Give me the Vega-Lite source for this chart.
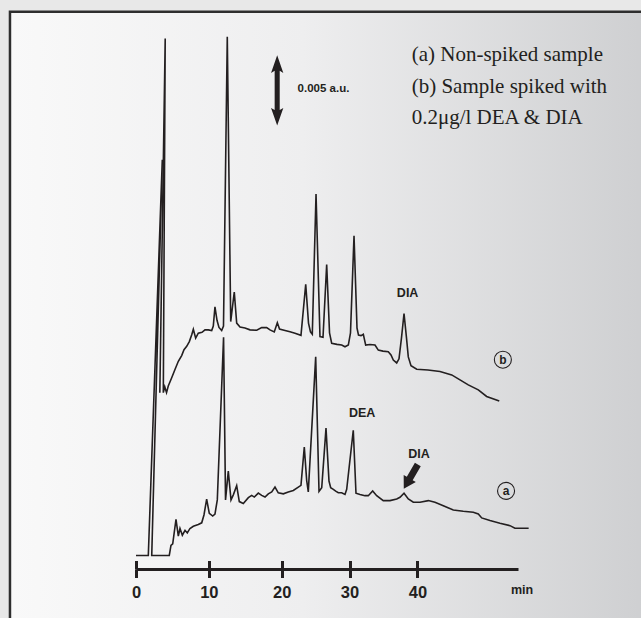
{
  "$schema": "https://vega.github.io/schema/vega-lite/v6.json",
  "width": 382,
  "height": 563,
  "autosize": {"type": "none"},
  "padding": {"left": 136, "top": 6, "right": 123, "bottom": 49},
  "background": "#e8e8e8",
  "config": {"view": {"stroke": null, "fill": null}, "font": "Liberation Sans"},
  "resolve": {"axis": {"x": "independent"}},
  "datasets": {
    "a": [
      {"i":1,"t":0,"v":0.96},{"i":2,"t":1.69,"v":0.96},{"i":3,"t":3.61,"v":29.07},{"i":4,"t":2.16,"v":0.96},{"i":5,"t":4.57,"v":0.96},
      {"i":6,"t":4.80,"v":1.68},{"i":7,"t":5.04,"v":1.79},{"i":8,"t":5.49,"v":3.52},{"i":9,"t":5.81,"v":2.33},{"i":10,"t":6.04,"v":2.88},
      {"i":11,"t":6.36,"v":2.40},{"i":12,"t":6.73,"v":2.75},{"i":13,"t":7.04,"v":2.56},{"i":14,"t":7.41,"v":2.88},{"i":15,"t":7.87,"v":3.04},
      {"i":16,"t":8.55,"v":3.16},{"i":17,"t":9.02,"v":3.28},{"i":18,"t":9.33,"v":3.84},{"i":19,"t":9.70,"v":4.96},{"i":20,"t":10.06,"v":3.95},
      {"i":21,"t":10.53,"v":3.76},{"i":22,"t":10.84,"v":3.90},{"i":23,"t":11.16,"v":4.91},{"i":24,"t":12.02,"v":16.47},{"i":25,"t":12.29,"v":4.91},
      {"i":26,"t":12.67,"v":6.95},{"i":27,"t":13.04,"v":4.91},{"i":28,"t":13.36,"v":5.27},{"i":29,"t":13.82,"v":5.92},{"i":30,"t":14.18,"v":4.79},
      {"i":31,"t":14.73,"v":4.66},{"i":32,"t":15.42,"v":5.07},{"i":33,"t":15.88,"v":5.23},{"i":34,"t":16.24,"v":5.11},{"i":35,"t":16.79,"v":5.39},
      {"i":36,"t":17.25,"v":5.23},{"i":37,"t":17.71,"v":5.11},{"i":38,"t":18.16,"v":5.34},{"i":39,"t":18.63,"v":5.47},{"i":40,"t":19.08,"v":5.82},
      {"i":41,"t":19.53,"v":5.41},{"i":42,"t":20.24,"v":5.34},{"i":43,"t":20.97,"v":5.47},{"i":44,"t":21.71,"v":5.58},{"i":45,"t":22.45,"v":5.82},
      {"i":46,"t":22.84,"v":5.94},{"i":47,"t":23.33,"v":8.66},{"i":48,"t":23.68,"v":6.30},{"i":49,"t":23.92,"v":5.48},{"i":50,"t":25.01,"v":15.07},
      {"i":51,"t":25.50,"v":5.51},{"i":52,"t":25.90,"v":5.77},{"i":53,"t":26.53,"v":10.01},{"i":54,"t":26.97,"v":6.25},{"i":55,"t":27.22,"v":5.77},
      {"i":56,"t":27.61,"v":5.66},{"i":57,"t":27.96,"v":5.53},{"i":58,"t":28.34,"v":5.42},{"i":59,"t":28.84,"v":5.42},{"i":60,"t":29.33,"v":5.30},
      {"i":61,"t":29.58,"v":5.66},{"i":62,"t":30.55,"v":9.86},{"i":63,"t":30.95,"v":5.38},{"i":64,"t":31.54,"v":5.29},{"i":65,"t":32.28,"v":5.21},
      {"i":66,"t":32.76,"v":5.21},{"i":67,"t":33.41,"v":5.55},{"i":68,"t":34.00,"v":5.21},{"i":69,"t":34.97,"v":4.86},{"i":70,"t":35.96,"v":4.86},
      {"i":71,"t":36.95,"v":4.98},{"i":72,"t":37.44,"v":5.10},{"i":73,"t":38.03,"v":5.38},{"i":74,"t":38.66,"v":4.98},{"i":75,"t":39.40,"v":4.74},
      {"i":76,"t":40.38,"v":4.74},{"i":77,"t":41.61,"v":4.86},{"i":78,"t":42.59,"v":4.74},{"i":79,"t":43.82,"v":4.50},{"i":80,"t":45.29,"v":4.19},
      {"i":81,"t":46.76,"v":4.10},{"i":82,"t":48.24,"v":4.03},{"i":83,"t":48.98,"v":3.91},{"i":84,"t":49.48,"v":3.63},{"i":85,"t":50.70,"v":3.44},
      {"i":86,"t":52.17,"v":3.25},{"i":87,"t":53.65,"v":3.08},{"i":88,"t":54.38,"v":2.89},{"i":89,"t":56.40,"v":2.89}
    ],
    "b": [
      {"i":1,"t":3.27,"v":12.53},{"i":2,"t":4.01,"v":37.69},{"i":3,"t":3.75,"v":12.53},{"i":4,"t":3.95,"v":12.95},{"i":5,"t":4.19,"v":12.53},
      {"i":6,"t":4.43,"v":13.00},{"i":7,"t":4.90,"v":13.59},{"i":8,"t":5.35,"v":14.17},{"i":9,"t":5.81,"v":14.76},{"i":10,"t":6.27,"v":15.16},
      {"i":11,"t":6.59,"v":15.58},{"i":12,"t":6.96,"v":15.82},{"i":13,"t":7.32,"v":16.16},{"i":14,"t":7.65,"v":16.64},{"i":15,"t":7.87,"v":17.03},
      {"i":16,"t":8.19,"v":16.40},{"i":17,"t":8.55,"v":16.75},{"i":18,"t":9.06,"v":16.82},{"i":19,"t":9.47,"v":16.99},{"i":20,"t":9.92,"v":16.99},
      {"i":21,"t":10.39,"v":16.94},{"i":22,"t":10.61,"v":17.26},{"i":23,"t":10.84,"v":18.63},{"i":24,"t":11.12,"v":17.67},{"i":25,"t":11.39,"v":17.16},
      {"i":26,"t":11.76,"v":16.94},{"i":27,"t":12.01,"v":17.26},{"i":28,"t":12.53,"v":37.81},{"i":29,"t":13.00,"v":17.58},{"i":30,"t":13.49,"v":19.68},
      {"i":31,"t":13.82,"v":17.47},{"i":32,"t":14.28,"v":17.19},{"i":33,"t":14.96,"v":17.12},{"i":34,"t":15.65,"v":16.99},{"i":35,"t":16.57,"v":16.96},
      {"i":36,"t":17.25,"v":17.15},{"i":37,"t":17.94,"v":17.15},{"i":38,"t":18.39,"v":16.99},{"i":39,"t":18.98,"v":16.84},{"i":40,"t":19.40,"v":17.49},
      {"i":41,"t":19.70,"v":17.05},{"i":42,"t":20.49,"v":16.95},{"i":43,"t":21.22,"v":16.85},{"i":44,"t":21.96,"v":16.75},{"i":45,"t":22.84,"v":16.60},
      {"i":46,"t":23.54,"v":20.23},{"i":47,"t":23.95,"v":17.47},{"i":48,"t":24.24,"v":16.85},{"i":49,"t":24.51,"v":16.68},{"i":50,"t":25.06,"v":26.64},
      {"i":51,"t":25.64,"v":16.51},{"i":52,"t":26.09,"v":16.47},{"i":53,"t":26.63,"v":21.63},{"i":54,"t":27.05,"v":16.78},{"i":55,"t":27.37,"v":16.03},
      {"i":56,"t":28.15,"v":15.96},{"i":57,"t":28.84,"v":15.91},{"i":58,"t":29.33,"v":15.79},{"i":59,"t":29.82,"v":15.91},{"i":60,"t":30.14,"v":16.78},
      {"i":61,"t":30.66,"v":23.68},{"i":62,"t":31.10,"v":17.12},{"i":63,"t":31.32,"v":16.62},{"i":64,"t":31.69,"v":16.58},{"i":65,"t":32.03,"v":16.68},
      {"i":66,"t":32.38,"v":15.91},{"i":67,"t":33.01,"v":15.95},{"i":68,"t":33.75,"v":15.91},{"i":69,"t":34.24,"v":15.55},{"i":70,"t":34.93,"v":15.48},
      {"i":71,"t":35.71,"v":15.44},{"i":72,"t":36.11,"v":15.21},{"i":73,"t":36.45,"v":14.85},{"i":74,"t":36.95,"v":14.64},{"i":75,"t":37.29,"v":14.93},
      {"i":76,"t":37.66,"v":16.44},{"i":77,"t":38.03,"v":18.15},{"i":78,"t":38.39,"v":16.44},{"i":79,"t":38.66,"v":15.07},{"i":80,"t":39.06,"v":14.45},
      {"i":81,"t":39.90,"v":14.19},{"i":82,"t":41.56,"v":14.14},{"i":83,"t":43.33,"v":14.03},{"i":84,"t":45.06,"v":13.79},{"i":85,"t":46.28,"v":13.44},
      {"i":86,"t":47.50,"v":13.08},{"i":87,"t":48.98,"v":12.73},{"i":88,"t":50.21,"v":12.26},{"i":89,"t":52.07,"v":11.93}
    ],
    "legend": [
      {"x":39.16,"y":36.49,"text":"(a) Non-spiked sample"},
      {"x":39.16,"y":34.25,"text":"(b) Sample spiked with"},
      {"x":39.16,"y":32.01,"text":"0.2μg/l DEA & DIA"}
    ],
    "peaks": [
      {"x":38.56,"y":19.60,"text":"DIA"},
      {"x":31.86,"y":11.10,"text":"DEA"},
      {"x":40.25,"y":8.15,"text":"DIA"}
    ],
    "traces": [
      {"x":52.60,"y":14.87,"text":"b"},
      {"x":53.07,"y":5.55,"text":"a"}
    ],
    "scalebar": [{"x":19.38,"y":34.0}],
    "scalelabel": [{"x":22.34,"y":34.08,"text":"0.005 a.u."}],
    "marker": [{"x":39.03,"y":6.56}]
  },
  "layer": [
    {
      "data": {"values": [{}]},
      "mark": {
        "type": "rect",
        "fill": {"gradient": "linear", "x1": 0, "x2": 1, "y1": 0, "y2": 0,
          "stops": [{"offset": 0, "color": "#f9f9f9"}, {"offset": 0.45, "color": "#eeeeef"}, {"offset": 1, "color": "#cdced0"}]},
        "stroke": "#2e2e2e", "strokeWidth": 2.5
      },
      "encoding": {
        "x": {"datum": -17.3, "type": "quantitative", "scale": {"domain": [0, 20, 54.83], "range": [0, 145.7, 382], "nice": false, "zero": false}, "axis": null},
        "x2": {"datum": 75.8},
        "y": {"datum": 39.59, "type": "quantitative", "scale": {"domain": [0, 40], "nice": false, "zero": false}, "axis": null},
        "y2": {"datum": -5}
      }
    },
    {
      "data": {"name": "a"},
      "mark": {"type": "line", "stroke": "#231f20", "strokeWidth": 1.6},
      "encoding": {
        "x": {"field": "t", "type": "quantitative", "scale": {"domain": [0, 20, 54.83], "range": [0, 145.7, 382], "nice": false, "zero": false},
          "axis": {"orient": "bottom", "zindex": 1, "values": [0, 10, 20, 30, 40], "grid": false,
            "domain": true, "domainColor": "#231f20", "domainWidth": 3,
            "ticks": true, "tickColor": "#231f20", "tickWidth": 3, "tickSize": 8.5,
            "labelFont": "Liberation Sans", "labelFontWeight": "bold", "labelFontSize": 16.5, "labelColor": "#231f20",
            "labelPadding": 7, "labelDx": 4, "labelFlush": false, "labelOverlap": false,
            "title": "min", "titleFont": "Liberation Sans", "titleFontWeight": "bold", "titleFontSize": 12.5, "titleColor": "#231f20",
            "titleX": 385.5, "titleY": 24.3, "titleAlign": "center", "titleBaseline": "alphabetic", "titleAngle": 0}},
        "y": {"field": "v", "type": "quantitative", "scale": {"domain": [0, 40], "nice": false, "zero": false}, "axis": null},
        "order": {"field": "i"}
      }
    },
    {
      "data": {"name": "b"},
      "mark": {"type": "line", "stroke": "#231f20", "strokeWidth": 1.6},
      "encoding": {
        "x": {"field": "t", "type": "quantitative", "scale": {"domain": [0, 20, 54.83], "range": [0, 145.7, 382], "nice": false, "zero": false},
          "axis": {"orient": "bottom", "zindex": 1, "offset": -8.5, "values": [0, 10, 20, 30, 40], "grid": false,
            "domain": false, "labels": false, "title": null,
            "ticks": true, "tickColor": "#231f20", "tickWidth": 3, "tickSize": 8.5}},
        "y": {"field": "v", "type": "quantitative", "scale": {"domain": [0, 40], "nice": false, "zero": false}, "axis": null},
        "order": {"field": "i"}
      }
    },
    {
      "data": {"name": "legend"},
      "mark": {"type": "text", "font": "Liberation Serif", "fontSize": 21, "color": "#231f20", "align": "left", "baseline": "middle"},
      "encoding": {
        "x": {"field": "x", "type": "quantitative", "axis": null},
        "y": {"field": "y", "type": "quantitative", "axis": null},
        "text": {"field": "text"}
      }
    },
    {
      "data": {"name": "peaks"},
      "mark": {"type": "text", "font": "Liberation Sans", "fontWeight": "bold", "fontSize": 12.5, "color": "#231f20", "align": "center", "baseline": "middle"},
      "encoding": {
        "x": {"field": "x", "type": "quantitative", "axis": null},
        "y": {"field": "y", "type": "quantitative", "axis": null},
        "text": {"field": "text"}
      }
    },
    {
      "data": {"name": "traces"},
      "mark": {"type": "point", "shape": "circle", "filled": false, "stroke": "#231f20", "strokeWidth": 1.1, "size": 290, "opacity": 1},
      "encoding": {
        "x": {"field": "x", "type": "quantitative", "axis": null},
        "y": {"field": "y", "type": "quantitative", "axis": null}
      }
    },
    {
      "data": {"name": "traces"},
      "mark": {"type": "text", "font": "Liberation Sans", "fontWeight": "bold", "fontSize": 12, "color": "#231f20", "align": "center", "baseline": "middle"},
      "encoding": {
        "x": {"field": "x", "type": "quantitative", "axis": null},
        "y": {"field": "y", "type": "quantitative", "axis": null},
        "text": {"field": "text"}
      }
    },
    {
      "data": {"name": "scalebar"},
      "mark": {"type": "point", "shape": "M0,-1 L0.175,-0.5 L0.072,-0.56 L0.072,0.56 L0.175,0.5 L0,1 L-0.175,0.5 L-0.072,0.56 L-0.072,-0.56 L-0.175,-0.5 Z",
        "filled": true, "fill": "#231f20", "strokeWidth": 0, "size": 4928, "opacity": 1},
      "encoding": {
        "x": {"field": "x", "type": "quantitative", "axis": null},
        "y": {"field": "y", "type": "quantitative", "axis": null}
      }
    },
    {
      "data": {"name": "scalelabel"},
      "mark": {"type": "text", "font": "Liberation Sans", "fontWeight": "bold", "fontSize": 11.5, "color": "#231f20", "align": "left", "baseline": "middle"},
      "encoding": {
        "x": {"field": "x", "type": "quantitative", "axis": null},
        "y": {"field": "y", "type": "quantitative", "axis": null},
        "text": {"field": "text"}
      }
    },
    {
      "data": {"name": "marker"},
      "mark": {"type": "point", "shape": "M0,-1 L0.5,-0.15 L0.24,-0.15 L0.24,1 L-0.24,1 L-0.24,-0.15 L-0.5,-0.15 Z",
        "filled": true, "fill": "#231f20", "strokeWidth": 0, "size": 790, "angle": 210, "opacity": 1},
      "encoding": {
        "x": {"field": "x", "type": "quantitative", "axis": null},
        "y": {"field": "y", "type": "quantitative", "axis": null}
      }
    }
  ]
}
